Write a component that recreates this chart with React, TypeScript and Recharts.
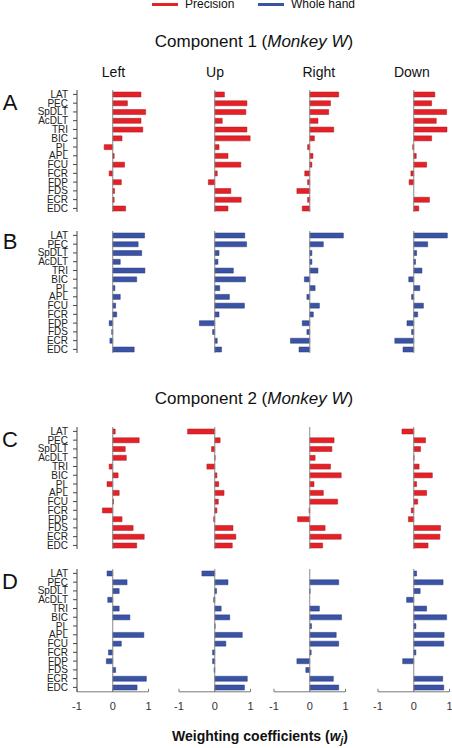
import { BarChart, Bar, XAxis, YAxis, ReferenceLine } from "recharts";

const muscles = ["LAT", "PEC", "SpDLT", "AcDLT", "TRI", "BIC", "PL", "APL", "FCU", "FCR", "FDP", "FDS", "ECR", "EDC"];
const directions = ["Left", "Up", "Right", "Down"];
const xTicks = [-1, 0, 1];

// A: component 1, precision grip
const aLeft = [0.79, 0.41, 0.92, 0.79, 0.84, 0.26, -0.24, 0.04, 0.33, -0.1, 0.24, 0.05, 0.04, 0.36];
const aUp = [0.27, 0.9, 0.87, 0.21, 0.9, 0.99, 0.12, 0.37, 0.73, 0.07, -0.18, 0.45, 0.74, 0.37];
const aRight = [0.81, 0.58, 0.53, 0.23, 0.67, 0.13, -0.06, 0.09, 0.06, -0.14, -0.06, -0.36, -0.06, -0.21];
const aDown = [0.59, 0.5, 0.92, 0.63, 0.93, 0.5, -0.03, 0.07, 0.36, -0.08, -0.13, 0.0, 0.44, 0.14];

// B: component 1, whole hand grip
const bLeft = [0.89, 0.71, 0.81, 0.21, 0.9, 0.67, 0.06, 0.21, 0.08, 0.11, -0.1, -0.03, -0.08, 0.6];
const bUp = [0.84, 0.89, 0.12, 0.09, 0.52, 0.86, 0.14, 0.41, 0.83, 0.12, -0.43, -0.06, 0.07, 0.19];
const bRight = [0.94, 0.38, 0.06, 0.06, 0.23, -0.15, 0.15, -0.08, 0.27, 0.1, -0.21, -0.08, -0.54, -0.3];
const bDown = [0.94, 0.39, 0.08, 0.05, 0.23, -0.14, 0.17, -0.06, 0.27, 0.11, -0.19, -0.06, -0.53, -0.3];

// C: component 2, precision grip
const cLeft = [0.07, 0.74, 0.35, 0.38, -0.1, 0.15, -0.16, 0.18, 0.02, -0.29, 0.26, 0.57, 0.88, 0.67];
const cUp = [-0.76, 0.15, -0.09, 0.01, -0.22, 0.06, 0.11, 0.26, 0.1, 0.06, -0.03, 0.51, 0.59, 0.49];
const cRight = [0.0, 0.68, 0.62, 0.15, 0.58, 0.88, 0.12, 0.38, 0.78, -0.02, -0.34, 0.43, 0.88, 0.36];
const cDown = [-0.33, 0.33, 0.19, 0.01, 0.15, 0.52, 0.08, 0.36, 0.11, -0.07, -0.15, 0.75, 0.73, 0.4];

// D: component 2, whole hand grip
const dLeft = [-0.16, 0.4, 0.18, -0.14, 0.18, 0.48, 0.0, 0.87, 0.24, -0.12, -0.18, 0.08, 0.94, 0.68];
const dUp = [-0.36, 0.37, 0.05, -0.03, 0.18, 0.42, 0.01, 0.77, 0.31, -0.06, -0.06, -0.02, 0.91, 0.83];
const dRight = [0.0, 0.81, 0.01, 0.0, 0.27, 0.89, 0.05, 0.74, 0.81, 0.04, -0.36, -0.11, 0.66, 0.81];
const dDown = [0.08, 0.82, 0.18, -0.2, 0.36, 0.92, 0.06, 0.85, 0.84, 0.06, -0.31, 0.0, 0.81, 0.84];

const RED = "#e52128";
const RED_EDGE = "#a8171d";
const BLUE = "#3a53a4";
const BLUE_EDGE = "#26387a";

const rows = [
  { id: "A", series: [aLeft, aUp, aRight, aDown], fill: RED, edge: RED_EDGE, top: 89.6, letterY: 103 },
  { id: "B", series: [bLeft, bUp, bRight, bDown], fill: BLUE, edge: BLUE_EDGE, top: 230.6, letterY: 242 },
  { id: "C", series: [cLeft, cUp, cRight, cDown], fill: RED, edge: RED_EDGE, top: 426.6, letterY: 440 },
  { id: "D", series: [dLeft, dUp, dRight, dDown], fill: BLUE, edge: BLUE_EDGE, top: 568.6, letterY: 582 },
];

const panelX = [77, 179, 274.3, 378.3];
const dirX = [113.5, 215, 318.8, 411.8];
const PANEL_W = 71.5;
const PLOT_H = 122.8;
const Y_W = 77;

function Panel({ values, col, top, fill, edge, showAxis }: any) {
  const data = muscles.map((m, i) => ({ muscle: m, w: values[i] }));
  const isLeft = col === 0;
  const left = isLeft ? 0 : panelX[col] - 6;
  const width = isLeft ? Y_W + PANEL_W + 6 : PANEL_W + 12;
  const height = PLOT_H + (showAxis ? 28 : 0);
  return (
    <div style={{ position: "absolute", left, top, width, height }}>
      <BarChart
        layout="vertical"
        width={width}
        height={height}
        data={data}
        barSize={5}
        margin={{ top: 0, right: 6, bottom: 0, left: isLeft ? 0 : 6 }}
      >
        <XAxis
          type="number"
          domain={[-1, 1]}
          ticks={xTicks}
          hide={!showAxis}
          height={28}
          stroke="#777"
          tickSize={-3}
          tickMargin={13}
          tick={{ fontSize: 11, fill: "#333" }}
        />
        <YAxis
          type="category"
          dataKey="muscle"
          hide={!isLeft}
          width={Y_W}
          interval={0}
          stroke="#444"
          tickSize={4}
          tickMargin={5}
          tick={{ fontSize: 10, fill: "#222" }}
        />
        <ReferenceLine x={0} stroke="#8a8a8a" strokeWidth={1} />
        <Bar dataKey="w" fill={fill} stroke={edge} strokeWidth={0.5} isAnimationActive={false} />
      </BarChart>
    </div>
  );
}

const abs = (style: any) => ({ position: "absolute" as const, whiteSpace: "nowrap" as const, ...style });

export default function App() {
  return (
    <div
      style={{
        position: "absolute",
        left: 0,
        top: 0,
        width: 452,
        height: 748,
        background: "#fff",
        overflow: "hidden",
        fontFamily: "Arial, 'Liberation Sans', sans-serif",
        color: "#111",
      }}
    >
      {/* legend */}
      <div style={abs({ left: 152, top: 3, width: 26, height: 3, background: RED })} />
      <div style={abs({ left: 185, top: -3, fontSize: 12, lineHeight: "14px" })}>Precision</div>
      <div style={abs({ left: 258, top: 3, width: 26, height: 3, background: BLUE })} />
      <div style={abs({ left: 291, top: -3, fontSize: 12, lineHeight: "14px" })}>Whole hand</div>

      <div style={abs({ left: 254, top: 42, fontSize: 17, transform: "translate(-50%, -50%)" })}>
        Component 1 (<i>Monkey W</i>)
      </div>
      <div style={abs({ left: 254, top: 399, fontSize: 17, transform: "translate(-50%, -50%)" })}>
        Component 2 (<i>Monkey W</i>)
      </div>

      {directions.map((d, i) => (
        <div key={d} style={abs({ left: dirX[i], top: 72, fontSize: 14, transform: "translate(-50%, -50%)" })}>
          {d}
        </div>
      ))}

      {rows.map((r) => (
        <div key={r.id}>
          <div style={abs({ left: 10, top: r.letterY, fontSize: 22, transform: "translate(-50%, -50%)" })}>{r.id}</div>
          {r.series.map((s, col) => (
            <Panel
              key={col}
              values={s}
              col={col}
              top={r.top}
              fill={r.fill}
              edge={r.edge}
              showAxis={r.id === "D"}
            />
          ))}
        </div>
      ))}

      <div
        style={abs({
          left: 260,
          top: 737,
          fontSize: 14,
          fontWeight: "bold",
          transform: "translate(-50%, -50%)",
        })}
      >
        Weighting coefficients (<i>w</i>
        <sub style={{ fontSize: 10 }}>
          <i>j</i>
        </sub>
        )
      </div>
    </div>
  );
}
